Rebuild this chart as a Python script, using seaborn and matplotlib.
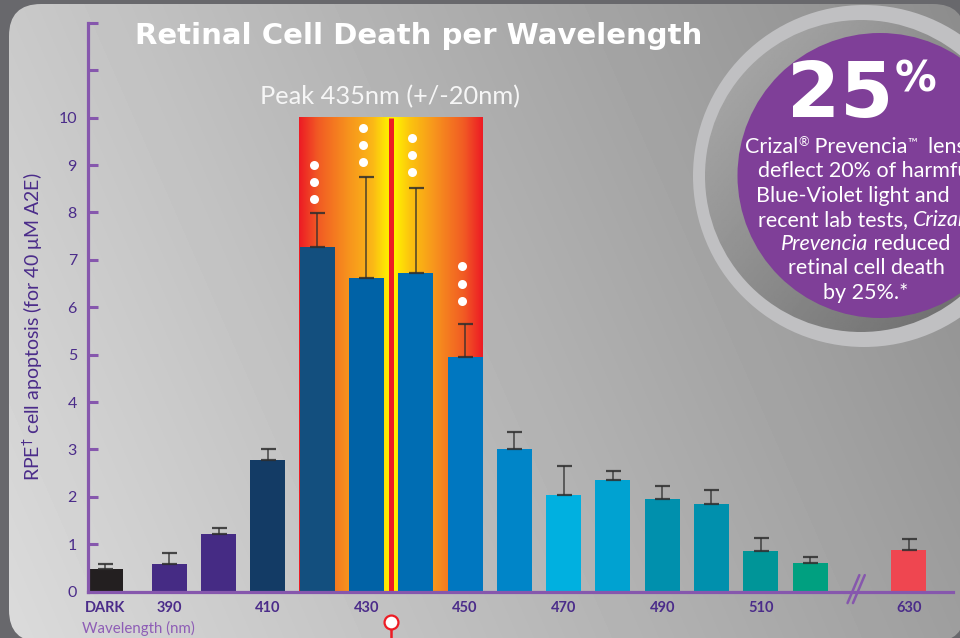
import numpy as np
import pandas as pd
import matplotlib
matplotlib.use("Agg")
import matplotlib.pyplot as plt
import seaborn as sns
from matplotlib.patches import FancyBboxPatch, Circle
from matplotlib.colors import LinearSegmentedColormap

# ---- data -------------------------------------------------------------
wavelengths = ["DARK", "390", "400", "410", "420", "430", "440", "450",
               "460", "470", "480", "490", "500", "510", "520", "630"]
slot = [-1.3, 0, 1, 2, 3, 4, 5, 6, 7, 8, 9, 10, 11, 12, 13, 15]
apoptosis = [0.48, 0.58, 1.22, 2.78, 7.27, 6.62, 6.72, 4.95,
             3.01, 2.04, 2.36, 1.96, 1.85, 0.86, 0.61, 0.88]
err_top = [0.58, 0.81, 1.34, 3.01, 7.98, 8.74, 8.52, 5.64,
           3.37, 2.66, 2.55, 2.24, 2.15, 1.13, 0.74, 1.11]
bar_colors = ["#231f20", "#452b84", "#452b84", "#133b65", "#134f7e",
              "#0062a6", "#006db3", "#0077c0", "#0085c8", "#00b0e0",
              "#00a2d1", "#0090ad", "#0090ad", "#009598", "#00a080",
              "#ef4650"]
labelled = ["DARK", "390", "410", "430", "450", "470", "490", "510", "630"]
sig_bars = ["420", "430", "440", "450"]
sig_lowest_dot = [8.29, 9.06, 8.85, 6.14]
peak_nm = 435
y_ticks = list(range(0, 13))
y_tick_labels = [str(v) if v <= 10 else "" for v in y_ticks]

callout_lines = [
    [("Crizal", "normal"), ("®", "sup"), (" Prevencia", "normal"), ("™", "sup"),
     ("  lenses", "normal")],
    [("deflect 20% of harmful", "normal")],
    [("Blue-Violet light and", "normal")],
    [("recent lab tests, ", "normal"), ("Crizal", "italic"), ("®", "sup")],
    [("Prevencia", "italic"), (" reduced", "normal")],
    [("retinal cell death", "normal")],
    [("by 25%.*", "normal")],
]
callout_centers = [866, 866, 853, 866, 866, 866, 866]

df = pd.DataFrame({"wl": wavelengths, "x": slot, "val": apoptosis, "err": err_top})

PURPLE_AX = "#8657ad"
PURPLE_TXT = "#4b2c8a"
FONT = ["Lato", "DejaVu Sans"]
WIDE = ["DejaVu Sans"]

sns.set_theme(style="white")
plt.rcParams["font.family"] = FONT
plt.rcParams["mathtext.fontset"] = "dejavusans"

W, H = 960, 638
fig = plt.figure(figsize=(W / 100, H / 100), dpi=100)
fig.patch.set_facecolor("#68686c")

# ---- background panel ---------------------------------------------------
bg = fig.add_axes([0, 0, 1, 1], zorder=0)
bg.set_xlim(0, W)
bg.set_ylim(H, 0)
bg.axis("off")
X, Y = np.meshgrid(np.arange(W), np.arange(H))
shade = 0.79 - 0.24 * X / W + 0.07 * Y / H
im = bg.imshow(shade, cmap="gray", vmin=0, vmax=1, extent=(0, W, H, 0),
               aspect="auto", zorder=0)
panel = FancyBboxPatch((9, 4), 956, 638, boxstyle="round,pad=0,rounding_size=32",
                       transform=bg.transData, facecolor="none", edgecolor="none")
bg.add_patch(panel)
im.set_clip_path(panel)

# ---- main chart -------------------------------------------------------
x0_px, x1_px = 88, 953
y0_px, y12_px = 591.7, 22.8
ax = fig.add_axes([x0_px / W, (H - y0_px) / H, (x1_px - x0_px) / W, (y0_px - y12_px) / H],
                  zorder=1)
ax.patch.set_alpha(0)

# peak band gradient behind the 420-450 bars
grad_cmap = LinearSegmentedColormap.from_list(
    "peak", [(0.0, "#ed1c24"), (0.1, "#f15a24"), (0.27, "#f7941d"),
             (0.4, "#fbb817"), (0.48, "#ffec00"), (0.52, "#fff200"),
             (0.6, "#fcc60e"), (0.74, "#f7941d"), (0.9, "#f15a24"),
             (1.0, "#ed1c24")])
band = np.linspace(0, 1, 400)[None, :]
ax.imshow(band, cmap=grad_cmap, extent=(2.64, 6.36, 0, 10), aspect="auto",
          zorder=0.5, interpolation="bilinear")
peak_x = np.interp(peak_nm, [430, 440], [4, 5])
ax.plot([peak_x, peak_x], [0, 10], color="#ed1c24", lw=3.6, zorder=0.6,
        solid_capstyle="butt")

palette = dict(zip(wavelengths, bar_colors))
sns.barplot(data=df, x="x", y="val", hue="wl", palette=palette, native_scale=True,
            dodge=False, width=0.71, errorbar=None, legend=False, ax=ax,
            saturation=1, linewidth=0, edgecolor="none", zorder=1)

ax.errorbar(df["x"], df["val"], yerr=[np.zeros(len(df)), df["err"] - df["val"]],
            fmt="none", ecolor="#2e2e2e", elinewidth=1.1, capsize=5.4,
            capthick=1.6, alpha=0.85, zorder=3)

for wl, low in zip(sig_bars, sig_lowest_dot):
    xp = df.loc[df["wl"] == wl, "x"].iloc[0] - 0.07
    ax.plot([xp] * 3, [low, low + 0.36, low + 0.72], "o", color="white",
            ms=6.5, mec="none", zorder=4)

ax.set_xlim(-1.65, 15.9)
ax.set_ylim(0, 12)

# axes styling
for s in ["top", "right"]:
    ax.spines[s].set_visible(False)
for s in ["left", "bottom"]:
    ax.spines[s].set_color(PURPLE_AX)
    ax.spines[s].set_linewidth(2.3)
    ax.spines[s].set_zorder(5)

ax.set_yticks(y_ticks)
ax.set_yticklabels(y_tick_labels)
ax.tick_params(axis="y", left=True, direction="in", length=7.5, width=2.2,
               color=PURPLE_AX, labelcolor=PURPLE_TXT, labelsize=11.5, pad=8)
ax.set_xticks(df["x"])
ax.set_xticklabels([w if w in labelled else "" for w in wavelengths],
                   fontweight="bold")
ax.tick_params(axis="x", bottom=True, direction="in", length=7, width=1.6,
               color="#dcdcdc", labelcolor=PURPLE_TXT, labelsize=10.5, pad=7)
ax.xaxis.get_major_ticks()[0].tick1line.set_visible(False)
ax.set_xlabel("")
ax.set_ylabel("RPE$^{\\dagger}$ cell apoptosis (for 40 μM A2E)", color=PURPLE_TXT,
              fontsize=14)
ax.yaxis.set_label_coords(-0.05, 0.465)

# axis break on the wavelength axis
for dx in (0.0, 0.11):
    ax.plot([13.76 + dx, 14.0 + dx], [-0.24, 0.35], color=PURPLE_AX, lw=1.8,
            clip_on=False, zorder=6)

# peak pin below the axis
ax.plot([peak_x, peak_x], [-0.78, -1.05], color="#ed1c24", lw=1.8, clip_on=False,
        zorder=6)
ax.plot([peak_x], [-0.64], "o", ms=10, mfc="white", mec="#ed1c24", mew=1.6,
        clip_on=False, zorder=7)

# ---- overlay: titles and callout circle ----------------------------------
ov = fig.add_axes([0, 0, 1, 1], zorder=3)
ov.set_xlim(0, W)
ov.set_ylim(H, 0)
ov.axis("off")
ov.patch.set_alpha(0)

ov.text(419, 36, "Retinal Cell Death per Wavelength", color="white",
        fontsize=21, fontweight="bold", family=WIDE, ha="center", va="center")
ov.text(390, 97, "Peak 435nm (+/-20nm)", color="#f6f6f6", fontsize=18.3,
        ha="center", va="center")
ov.text(82, 628, "Wavelength (nm)", color="#8e5db6", fontsize=10.8, ha="left",
        va="center")

# callout circle
ov.add_patch(Circle((864, 176), 171, facecolor="#c0c0c2", edgecolor="none",
                    zorder=1))
inner = Circle((861, 176), 156, facecolor="none", edgecolor="none", zorder=2)
ov.add_patch(inner)
gx, gy = np.meshgrid(np.linspace(0, 1, 200), np.linspace(0, 1, 200))
ring_shade = 0.68 - 0.28 * (0.55 * gx + 0.45 * gy)
rim = ov.imshow(ring_shade, cmap="gray", vmin=0, vmax=1,
                extent=(861 - 156, 861 + 156, 176 + 156, 176 - 156),
                aspect="auto", zorder=2)
rim.set_clip_path(inner)
ov.add_patch(Circle((880, 175.5), 142.5, facecolor="#7f3f98", edgecolor="none",
                    zorder=3))

ov.text(840, 96, "25", color="white", fontsize=55, fontweight="bold",
        family=WIDE, ha="center", va="center", zorder=4)
ov.text(916, 80, "%", color="white", fontsize=30, fontweight="bold",
        family=WIDE, ha="center", va="center", zorder=4)

renderer = fig.canvas.get_renderer()
BODY = 15.5


def run_props(style):
    if style == "sup":
        return dict(fontsize=BODY * 0.6, style="normal"), -5
    return dict(fontsize=BODY, style=style), 0


def run_width(s, style):
    props, _ = run_props(style)
    t = ov.text(0, 0, s.replace(" ", "\u00a0"), **props)
    w = t.get_window_extent(renderer).width
    t.remove()
    return w


for i, (runs, cx) in enumerate(zip(callout_lines, callout_centers)):
    yy = 147 + i * 24.3
    widths = [run_width(s, st) for s, st in runs]
    left = cx - sum(widths) / 2
    for (s, st), w in zip(runs, widths):
        props, dy = run_props(st)
        ov.text(left, yy + dy, s.replace(" ", "\u00a0"), color="white",
                ha="left", va="center", zorder=4, **props)
        left += w

fig.savefig("out.png", dpi=100, facecolor=fig.get_facecolor())
